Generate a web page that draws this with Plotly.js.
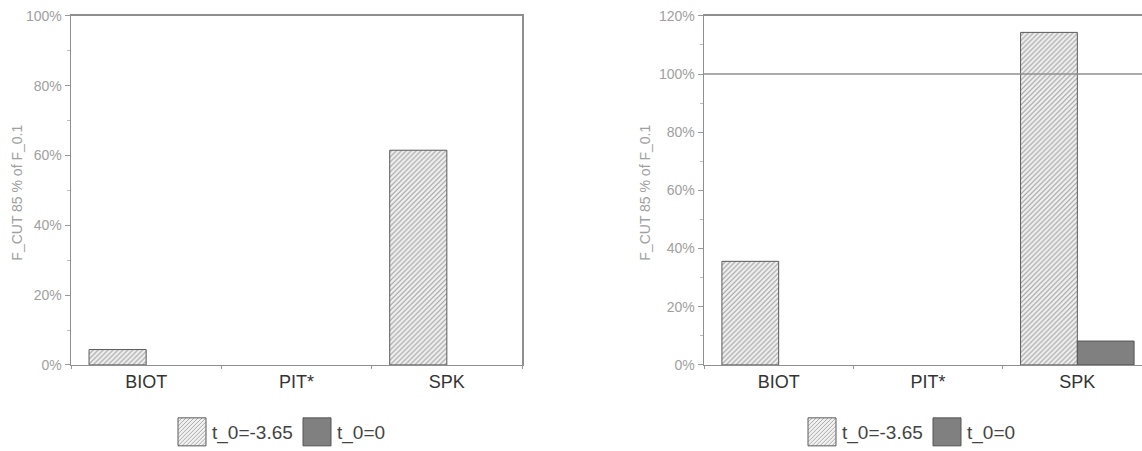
<!DOCTYPE html>
<html>
<head>
<meta charset="utf-8">
<script src="https://cdn.plot.ly/plotly-3.0.1.min.js"></script>
<style>
html,body{margin:0;padding:0;background:#fff;overflow:hidden;width:1142px;height:451px;}
#chart{width:1160px;height:451px;}
</style>
</head>
<body>
<div id="chart"></div>
<script>
// ---- data ----
const categories = ["BIOT", "PIT*", "SPK"];
const seriesNames = ["t_0=-3.65", "t_0=0"];
// left panel (percent); null = no bar drawn
const leftHatched = [4.4, null, 61.5];
const leftSolid = [null, null, null];
// right panel (percent)
const rightHatched = [35.6, null, 114.3];
const rightSolid = [null, null, 8.2];
const referenceLevel = 100;
const yTitle = "F_CUT 85 % of F_0.1";
const leftTicks = [0, 20, 40, 60, 80, 100];
const rightTicks = [0, 20, 40, 60, 80, 100, 120];

// ---- styles ----
const W = 1160, H = 451;
const FONT = "Liberation Sans, Arial, sans-serif";
const hatchMarker = {
  color: "#e8e8e8",
  pattern: {shape: "/", fgcolor: "#9a9a9a", bgcolor: "#f2f2f2", size: 3.5, solidity: 0.3},
  line: {color: "#5a5a5a", width: 1}
};
const solidMarker = {color: "#808080", line: {color: "#555555", width: 1}};

function bar(y, name, marker, xa, ya, legend) {
  return {type: "bar", x: categories, y: y, name: name, marker: marker,
          xaxis: xa, yaxis: ya, legend: legend, showlegend: true, hoverinfo: "skip"};
}

const data = [
  bar(leftHatched, seriesNames[0], hatchMarker, "x", "y", "legend"),
  bar(leftSolid, seriesNames[1], solidMarker, "x", "y", "legend"),
  bar(rightHatched, seriesNames[0], hatchMarker, "x2", "y2", "legend2"),
  bar(rightSolid, seriesNames[1], solidMarker, "x2", "y2", "legend2")
];

const yDom = [82 / H, 435 / H];
const axisLine = {showline: true, linecolor: "#8f8f8f", linewidth: 1.5, mirror: true, zeroline: false, showgrid: false};
function xAxis(dom) {
  return Object.assign({}, axisLine, {
    domain: dom, type: "category", categoryorder: "array", categoryarray: categories,
    tickson: "boundaries", ticks: "outside", ticklen: 3, tickcolor: "#999",
    tickfont: {family: FONT, size: 18, color: "#333"},
    fixedrange: true
  });
}
function yAxis(range, ticks, anchor) {
  return Object.assign({}, axisLine, {
    domain: yDom, range: range, anchor: anchor, tickmode: "array", tickvals: ticks,
    ticktext: ticks.map(v => v + "%"),
    ticks: "outside", ticklen: 5, tickcolor: "#999",
    minor: {dtick: 10, ticks: "outside", ticklen: 3, tickcolor: "#bbb"},
    tickfont: {family: FONT, size: 14, color: "#a0a0a0"},
    fixedrange: true
  });
}

const legendBase = {
  orientation: "h", yanchor: "middle", y: (H - 437) / H, xanchor: "left",
  font: {family: FONT, size: 19, color: "#444"},
  entrywidth: 80, entrywidthmode: "pixels",
  bgcolor: "rgba(0,0,0,0)", itemclick: false, itemdoubleclick: false
};

const layout = {
  width: W, height: H,
  margin: {l: 0, r: 0, t: 0, b: 0},
  paper_bgcolor: "#fff", plot_bgcolor: "#fff",
  barmode: "group", bargap: 0.24, bargroupgap: 0,
  xaxis: xAxis([71 / W, 522 / W]),
  yaxis: yAxis([0, 100], leftTicks, "x"),
  xaxis2: xAxis([704 / W, 1152 / W]),
  yaxis2: yAxis([0, 120], rightTicks, "x2"),
  legend: Object.assign({}, legendBase, {x: 172 / W}),
  legend2: Object.assign({}, legendBase, {x: 802 / W}),
  shapes: [{type: "line", xref: "x2 domain", x0: 0, x1: 1, yref: "y2", y0: referenceLevel, y1: referenceLevel,
            line: {color: "#8f8f8f", width: 1.5}}],
  annotations: [
    {text: yTitle, xref: "paper", yref: "paper", x: 17 / W, y: 0.568, xanchor: "center", yanchor: "middle",
     textangle: -90, showarrow: false, font: {family: FONT, size: 14, color: "#a0a0a0"}},
    {text: yTitle, xref: "paper", yref: "paper", x: 645 / W, y: 0.568, xanchor: "center", yanchor: "middle",
     textangle: -90, showarrow: false, font: {family: FONT, size: 14, color: "#a0a0a0"}}
  ]
};

Plotly.newPlot("chart", data, layout, {displayModeBar: false, staticPlot: true}).then(function (gd) {
  // enlarge legend swatches to match the reference's big boxes
  gd.querySelectorAll(".legendpoints path").forEach(function (p) {
    p.setAttribute("d", "M14,14H-14V-14H14Z");
  });
});
</script>
</body>
</html>
